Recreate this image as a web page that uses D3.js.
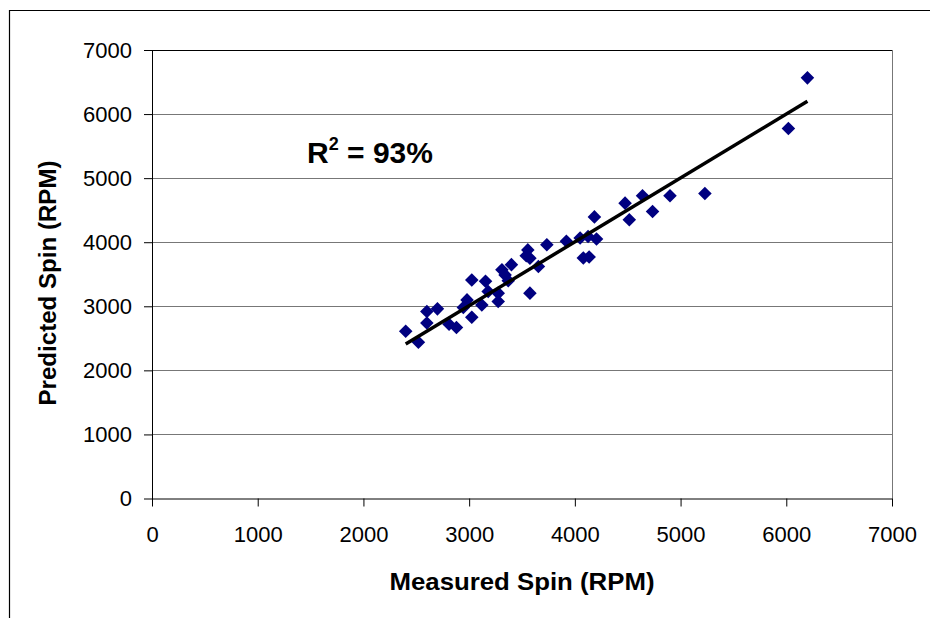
<!DOCTYPE html>
<html>
<head>
<meta charset="utf-8">
<script src="https://cdn.jsdelivr.net/npm/d3@7"></script>
<style>
  body { margin: 0; background: #fff; }
  svg text { font-family: Arial, "Liberation Sans", sans-serif; fill: #000; }
</style>
</head>
<body>
<div id="chart"></div>
<script>
// Measured vs predicted spin
const measured = [2400, 2520, 2600, 2600, 2700, 2810, 2880, 2980, 2945, 3025,
  3025, 3155, 3180, 3120, 3275, 3275, 3310, 3340, 3400, 3370,
  3555, 3540, 3575, 3655, 3575, 3735, 3920, 4050, 4080, 4125,
  4205, 4135, 4185, 4475, 4515, 4640, 4735, 4900, 5230, 6020, 6200];
const predicted = [2610, 2440, 2920, 2740, 2960, 2720, 2670, 3100, 2980, 2830,
  3410, 3390, 3230, 3020, 3205, 3075, 3570, 3490, 3650, 3400,
  3880, 3790, 3750, 3620, 3205, 3960, 4015, 4065, 3755, 4090,
  4050, 3770, 4395, 4610, 4350, 4725, 4480, 4725, 4760, 5775, 6565];

// trendline end points
const trendX = [2400, 6200];
const trendY = [2410, 6200];

const ticks = [0, 1000, 2000, 3000, 4000, 5000, 6000, 7000];
const r2Label = '93%';

const w = 930, h = 618;
const plotL = 152, plotR = 892, plotT = 50, plotB = 498.5;

const svg = d3.select('#chart').append('svg')
  .attr('width', w)
  .attr('height', h);

const xScale = d3.scaleLinear().domain([0, 7000]).range([plotL, plotR]);
const yScale = d3.scaleLinear().domain([0, 7000]).range([plotB, plotT]);

// outer chart frame (only top and left show)
svg.append('path')
  .attr('d', `M9.5,${h} L9.5,10.5 L${w},10.5`)
  .attr('fill', 'none')
  .attr('stroke', '#000')
  .attr('stroke-width', 1.2);

// gridlines
svg.append('g')
  .selectAll('line')
  .data(ticks.slice(1))
  .join('line')
  .attr('x1', plotL).attr('x2', plotR)
  .attr('y1', d => Math.round(yScale(d)) + 0.5)
  .attr('y2', d => Math.round(yScale(d)) + 0.5)
  .attr('stroke', d => d === 7000 ? '#000' : '#777')
  .attr('stroke-width', 1);

// right border of plot area
svg.append('line')
  .attr('x1', plotR + 0.5).attr('x2', plotR + 0.5)
  .attr('y1', plotT).attr('y2', plotB)
  .attr('stroke', '#777');

// axes
const fmt = d3.format('d');
const xAxis = svg.append('g')
  .attr('transform', 'translate(0,' + plotB + ')')
  .call(d3.axisBottom(xScale).tickValues(ticks).tickFormat(fmt)
    .tickSizeInner(8).tickSizeOuter(0).tickPadding(20));
const yAxis = svg.append('g')
  .attr('transform', 'translate(' + plotL + ',0)')
  .call(d3.axisLeft(yScale).tickValues(ticks).tickFormat(fmt)
    .tickSizeInner(8).tickSizeOuter(0).tickPadding(12));

[xAxis, yAxis].forEach(g => {
  g.selectAll('text').style('font-size', '22px').attr('fill', '#000');
  g.selectAll('line, path').attr('stroke', '#000');
  g.attr('font-family', null);
});

// points
svg.append('g')
  .selectAll('path')
  .data(measured.map((m, i) => [m, predicted[i]]))
  .join('path')
  .attr('d', d3.symbol(d3.symbolSquare, 92))
  .attr('transform', d => `translate(${xScale(d[0])},${yScale(d[1])}) rotate(45)`)
  .attr('fill', '#000080');

// trendline
svg.append('line')
  .attr('x1', xScale(trendX[0])).attr('y1', yScale(trendY[0]))
  .attr('x2', xScale(trendX[1])).attr('y2', yScale(trendY[1]))
  .attr('stroke', '#000')
  .attr('stroke-width', 3.5);

// R^2 label
const r2 = svg.append('text')
  .attr('x', 307).attr('y', 163)
  .style('font-size', '30px')
  .style('font-weight', 'bold');
r2.append('tspan').text('R');
r2.append('tspan').text('2').style('font-size', '18px').attr('dy', -13);
r2.append('tspan').text(' = ' + r2Label).attr('dy', 13);

// axis titles
svg.append('text')
  .attr('x', 522).attr('y', 590)
  .attr('text-anchor', 'middle')
  .attr('textLength', 265)
  .attr('lengthAdjust', 'spacingAndGlyphs')
  .style('font-size', '24px')
  .style('font-weight', 'bold')
  .text('Measured Spin (RPM)');

svg.append('text')
  .attr('transform', 'translate(56,283) rotate(-90)')
  .attr('text-anchor', 'middle')
  .attr('textLength', 245)
  .attr('lengthAdjust', 'spacingAndGlyphs')
  .style('font-size', '24px')
  .style('font-weight', 'bold')
  .text('Predicted Spin (RPM)');
</script>
</body>
</html>
